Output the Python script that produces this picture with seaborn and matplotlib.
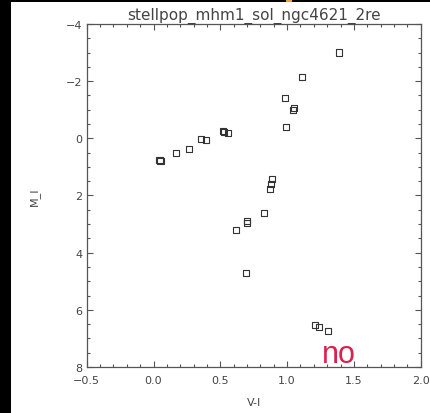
import matplotlib
matplotlib.use("Agg")
import matplotlib.pyplot as plt
from matplotlib.ticker import MultipleLocator, FixedLocator, FixedFormatter
from matplotlib.patches import Rectangle
import pandas as pd
import seaborn as sns

# Colour-magnitude points of the stellar population model
v_minus_i = [0.045, 0.052, 0.166, 0.263, 0.353, 0.391, 0.520, 0.526, 0.555,
             1.386, 1.112, 0.982, 1.052, 1.042, 0.992,
             0.889, 0.882, 0.870, 0.829, 0.700, 0.698, 0.615, 0.695,
             1.207, 1.241, 1.306]
m_i = [0.77, 0.79, 0.50, 0.36, 0.01, 0.07, -0.26, -0.23, -0.19,
       -3.00, -2.14, -1.40, -1.07, -0.98, -0.40,
       1.42, 1.60, 1.77, 2.60, 2.88, 2.97, 3.20, 4.71,
       6.52, 6.60, 6.74]

title_text = "stellpop_mhm1_sol_ngc4621_2re"
x_label = "V-I"
y_label = "M_I"
x_ticks = [-0.5, 0.0, 0.5, 1.0, 1.5, 2.0]
x_tick_labels = ["\u22120.5", "0.0", "0.5", "1.0", "1.5", "2.0"]
y_ticks = [-4, -2, 0, 2, 4, 6, 8]
y_tick_labels = ["\u22124", "\u22122", "0", "2", "4", "6", "8"]
stamp_text = "no"

sns.set_theme(style="ticks")
plt.rcParams["font.family"] = ["DejaVu Sans"]

ink = "#444444"
fig = plt.figure(figsize=(4.31, 4.14), dpi=100)
fig.patch.set_facecolor("white")

# dark border strips along the left and top edges
fig.patches.append(Rectangle((0, 0), 11 / 431, 1, transform=fig.transFigure,
                             facecolor="black", edgecolor="none", zorder=0))
fig.patches.append(Rectangle((0, 1 - 3 / 414), 1, 3 / 414, transform=fig.transFigure,
                             facecolor="black", edgecolor="none", zorder=0))
fig.patches.append(Rectangle((286 / 431, 1 - 3 / 414), 6 / 431, 3 / 414,
                             transform=fig.transFigure, facecolor="#f0a030",
                             edgecolor="none", zorder=1))

ax = fig.add_axes([86.7 / 431, 1 - 368 / 414, 334 / 431, 343 / 414])
ax.set_facecolor("white")

df = pd.DataFrame({"V-I": v_minus_i, "M_I": m_i})
sns.scatterplot(data=df, x="V-I", y="M_I", marker="s", s=20,
                facecolor="none", edgecolor="#333333", linewidth=0.8, ax=ax)

ax.set_xlim(-0.5, 2.0)
ax.set_ylim(8, -4)

ax.xaxis.set_major_locator(FixedLocator(x_ticks))
ax.xaxis.set_major_formatter(FixedFormatter(x_tick_labels))
ax.yaxis.set_major_locator(FixedLocator(y_ticks))
ax.yaxis.set_major_formatter(FixedFormatter(y_tick_labels))
ax.xaxis.set_minor_locator(MultipleLocator(0.1))
ax.yaxis.set_minor_locator(MultipleLocator(0.5))

for side in ["top", "right", "bottom", "left"]:
    ax.spines[side].set_visible(True)
    ax.spines[side].set_color("#555555")
    ax.spines[side].set_linewidth(0.9)

ax.tick_params(which="both", direction="in", top=True, right=True,
               color="#555555", width=0.8, labelcolor=ink, labelsize=8)
ax.tick_params(which="major", length=4)
ax.tick_params(which="minor", length=2.2)
ax.tick_params(axis="x", which="major", pad=6)
ax.tick_params(axis="y", which="major", pad=3)

ax.set_xlabel(x_label, fontsize=8, color=ink)
ax.set_ylabel(y_label, fontsize=8, color=ink)
ax.xaxis.set_label_coords(0.5, -0.088)
ax.yaxis.set_label_coords(-0.14, 0.5)

ax.set_title(title_text, fontsize=11, color=ink, pad=4)

ax.text(1.389, 7.83, stamp_text, color="#dc1f4b", fontsize=22,
        family="Liberation Sans", ha="center", va="baseline")

fig.savefig("out.png", dpi=100, facecolor="white")
